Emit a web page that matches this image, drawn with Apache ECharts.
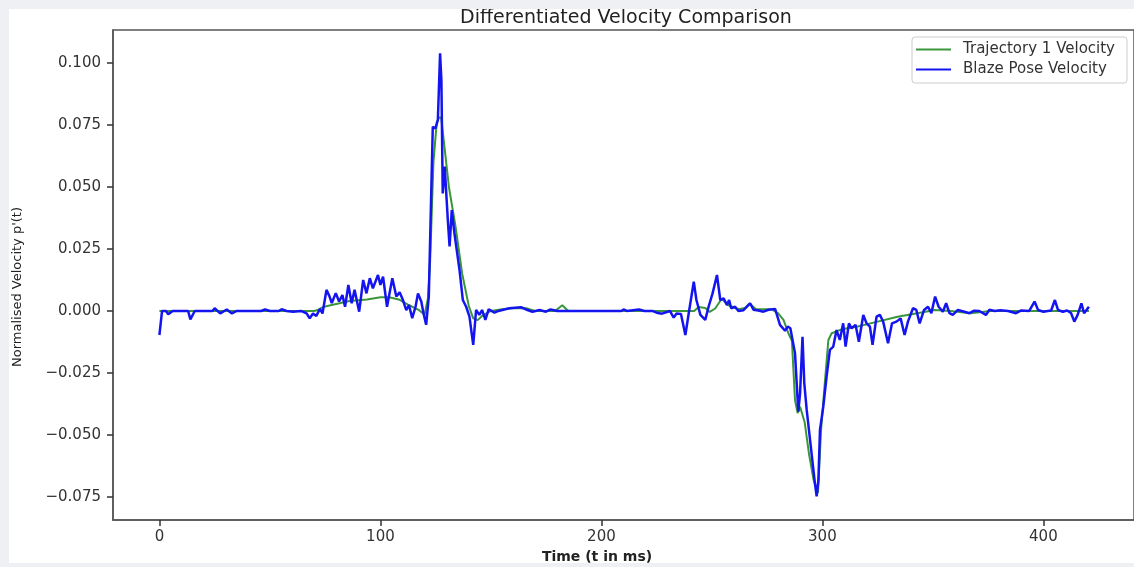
<!DOCTYPE html>
<html>
<head>
<meta charset="UTF-8">
<title>Differentiated Velocity Comparison</title>
<script type="text/javascript" src="https://cdn.jsdelivr.net/npm/echarts@6/dist/echarts.min.js"></script>
<style>
html, body { margin:0; padding:0; background:#eef0f3; }
#mychart { position:absolute; left:9px; top:9px; width:1125px; height:554px; background:#fff; }
</style>
</head>
<body>
<div id="mychart"></div>

<script type="text/javascript">

// values
var xTicks = [0, 100, 200, 300, 400];
var yTicks = [-0.075, -0.05, -0.025, 0, 0.025, 0.05, 0.075, 0.1];

var trajTime = [0, 70, 72, 74, 80, 86, 94, 100, 104, 108.7, 113, 117.5, 120, 121.5, 122.5, 124, 125.5, 126.5,
  127.5, 128.5, 131, 134, 137, 140, 142, 144, 146, 150, 155, 160, 166, 170, 179, 182.3, 185, 242, 244, 247,
  249, 251.5, 254.5, 257, 262, 265, 267, 270, 277, 280, 282.4, 284.6, 286.2, 287.6, 288.8, 289.9, 292, 294,
  296, 298, 299.4, 301.2, 302.7, 304.2, 308.7, 316, 325, 334, 343, 350.8, 358, 367, 376, 420.6];
var trajVel = [0, 0, 0.0005, 0.0016, 0.0028, 0.004, 0.0046, 0.0055, 0.0055, 0.0045, 0.0023, 0.0003, -0.0015,
  0.005, 0.02, 0.06, 0.076, 0.078, 0.078, 0.07, 0.05, 0.034, 0.015, 0.002, -0.003, -0.0037, -0.002, 0, 0.0007,
  0.0011, 0.0011, 0, 0, 0.0023, 0, 0, 0.0016, 0.0012, -0.0004, 0.001, 0.005, 0.0025, 0.0007, 0.0012, 0.003,
  0.0007, 0.0007, -0.001, -0.0036, -0.009, -0.012, -0.0359, -0.0412, -0.0386, -0.045, -0.058, -0.068, -0.0734,
  -0.048, -0.0278, -0.0117, -0.009, -0.0074, -0.0063, -0.0043, -0.0023, -0.0009, 0.0004, 0, -0.0009, 0, 0];

var blazeTime = [0, 1.2, 3, 4, 6, 13, 14, 16, 24, 25, 27.5, 30.5, 32.8, 35, 46, 47.8, 50, 54, 55.3, 57.5, 60.5,
  64, 66.6, 68, 69.5, 71, 72.6, 73.8, 75.6, 77, 78, 79.8, 81.3, 82.8, 84, 85.5, 87, 88.3, 90.4, 92.2, 93.7,
  95.2, 96.6, 98.9, 100, 101.2, 103, 105.4, 107.2, 108.7, 110.2, 111.7, 112.9, 114.4, 115.9, 117, 118.5, 119.5,
  120.7, 121.9, 123.7, 124.9, 126, 127, 127.6, 128.2, 129.1, 130.5, 131.3, 132.3, 133.5, 135.8, 137.3, 138.8,
  140.3, 142, 143.3, 144.8, 146, 147.5, 149, 151.6, 153.4, 158.3, 163.6, 165.9, 168.8, 172, 174.9, 177, 180,
  209, 210, 211.5, 217, 219.5, 223, 225, 227.4, 231, 232.7, 234, 236, 238, 239.5, 241.8, 243, 244.8, 247,
  248.5, 250.3, 252.3, 253.8, 255.3, 256.8, 257.8, 258.7, 260.5, 262, 264.3, 267.3, 268.8, 271, 273.3, 275.6,
  278.6, 280.8, 283.1, 284.3, 285.5, 287.6, 289.1, 289.9, 291, 291.8, 292.9, 296.6, 297.4, 298.2, 298.9,
  300.4, 301.9, 303.4, 304.9, 306.4, 307.9, 309.4, 310.5, 312, 313.2, 315, 316.5, 318.5, 320, 321.5, 322.7,
  324.5, 326, 327.5, 329.7, 331.5, 333.5, 335.4, 337.2, 338.7, 341, 342.5, 344, 346, 347.8, 349.3, 351,
  352.6, 354.5, 356, 357.5, 359, 361.3, 364.3, 366.5, 368.7, 371, 374, 375.6, 378, 380.5, 384, 387.6, 390,
  393.6, 396, 397.6, 400, 402, 403.5, 405.2, 406.6, 408.8, 410.7, 412.5, 414, 415.5, 417.2, 418.4, 420.6];
var blazeVel = [-0.0097, 0, 0, -0.0013, 0, 0, -0.0034, 0, 0, 0.0011, -0.001, 0.0006, -0.001, 0, 0, 0.0006, 0,
  0, 0.0007, 0, -0.0003, 0, -0.001, -0.003, -0.001, -0.002, 0.0008, -0.001, 0.0085, 0.0058, 0.0032, 0.0072,
  0.0038, 0.0064, 0.0017, 0.0105, 0.0031, 0.0085, -0.0003, 0.0125, 0.0071, 0.0132, 0.0091, 0.0145, 0.0105,
  0.0138, 0.0017, 0.0132, 0.0058, 0.0075, 0.0044, 0.0003, 0.0024, -0.0029, 0.0017, 0.0071, 0.0038, -0.0009,
  -0.0056, 0.0058, 0.0743, 0.0736, 0.077, 0.1039, 0.093, 0.0474, 0.0582, 0.0367, 0.026, 0.0407, 0.0313,
  0.0165, 0.0044, 0.0017, -0.0023, -0.0137, 0.0004, -0.0016, 0.0004, -0.0036, 0.0007, -0.0007, 0, 0.0011,
  0.0015, 0.0006, -0.0003, 0.0004, -0.0003, 0.0006, 0, 0, 0.0006, 0, 0.0006, 0, 0, -0.0007, -0.0011, 0,
  -0.0027, -0.001, -0.0012, -0.0097, -0.001, 0.0118, 0.0044, -0.0016, -0.0036, 0.0017, 0.0071, 0.0145,
  0.0044, 0.0051, 0.0024, 0.0044, 0.0011, 0.0017, 0, 0.0003, 0.0031, 0.0005, 0.0002, -0.0003, 0.0005,
  0.0008, -0.0056, -0.008, -0.0063, -0.007, -0.017, -0.0406, -0.0332, -0.0104, -0.0291, -0.0399, -0.0694,
  -0.0748, -0.0681, -0.048, -0.0386, -0.0265, -0.0157, -0.0144, -0.0077, -0.0117, -0.005, -0.0144, -0.005,
  -0.007, -0.0056, -0.0124, -0.0016, -0.005, -0.0063, -0.0137, -0.0023, -0.0016, -0.0043, -0.013, -0.005,
  -0.0043, -0.003, -0.0097, -0.0043, 0.0011, 0.0004, -0.005, 0.0004, 0.0017, -0.0009, 0.0058, 0.0017,
  -0.0003, 0.0031, -0.0009, -0.0016, 0.0004, -0.0003, -0.0009, 0.0001, 0, -0.0016, 0.0005, 0, 0.0003, 0,
  -0.0009, 0.0002, 0, 0.0038, 0.0004, -0.0003, 0, 0.0002, 0.0044, 0.0004, -0.0003, 0.0002, -0.0008,
  -0.0043, -0.0016, 0.0031, -0.0009, 0.0017];

function pairs(xs, ys) {
  var out = [];
  for (var i = 0; i < xs.length; i++) out.push([xs[i], ys[i]]);
  return out;
}

var font = 'DejaVu Sans';
var mychart = echarts.init(document.getElementById('mychart'));

var option = {
  animation: false,
  grid: { left: 104, top: 21, right: -3, bottom: 43, show: true, borderColor: '#555', borderWidth: 1.5 },
  graphic: [
    { type: 'text', x: 617, y: 9, style: { text: 'Differentiated Velocity Comparison', fontFamily: font,
        fontSize: 19, fill: '#222', align: 'center', verticalAlign: 'middle' } },
    { type: 'text', x: 588, y: 548, style: { text: 'Time (t in ms)', fontFamily: font, fontWeight: 'bold',
        fontSize: 14, fill: '#222', align: 'center', verticalAlign: 'middle' } },
    { type: 'text', x: 9, y: 278, rotation: Math.PI / 2, style: { text: "Normalised Velocity p'(t)",
        fontFamily: font, fontSize: 13, fill: '#222', align: 'center', verticalAlign: 'middle' } }
  ],
  legend: {
    orient: 'vertical', left: 903, top: 28, icon: 'rect',
    padding: [5, 12, 6, 4], itemGap: 5, itemWidth: 35, itemHeight: 2,
    borderColor: '#ccc', borderWidth: 1, borderRadius: 3, backgroundColor: '#fff',
    textStyle: { fontFamily: font, fontSize: 15, color: '#333', padding: [0, 0, 0, 7] }
  },
  xAxis: {
    type: 'value', min: -21, max: 441,
    axisLine: { show: true, onZero: false, lineStyle: { color: '#555', width: 1.5 } },
    axisTick: { show: true, inside: false, length: 6, customValues: xTicks, lineStyle: { color: '#333', width: 1.5 } },
    axisLabel: { customValues: xTicks, margin: 10, fontFamily: font, fontSize: 15, color: '#333' },
    splitLine: { show: false }
  },
  yAxis: {
    type: 'value', min: -0.0843, max: 0.1133,
    axisLine: { show: true, onZero: false, lineStyle: { color: '#555', width: 1.5 } },
    axisTick: { show: true, inside: false, length: 6, customValues: yTicks, lineStyle: { color: '#333', width: 1.5 } },
    axisLabel: { customValues: yTicks, margin: 12, fontFamily: font, fontSize: 15, color: '#333',
      formatter: function (v) { return (v < 0 ? '\u2212' : '') + Math.abs(v).toFixed(3); } },
    splitLine: { show: false }
  },
  series: [
    { name: 'Trajectory 1 Velocity', type: 'line', symbol: 'none', color: '#3a963a',
      lineStyle: { width: 2 }, data: pairs(trajTime, trajVel) },
    { name: 'Blaze Pose Velocity', type: 'line', symbol: 'none', color: '#1414f0',
      lineStyle: { width: 2.5 }, data: pairs(blazeTime, blazeVel) }
  ]
};

mychart.setOption(option);
</script>
</body>
</html>
